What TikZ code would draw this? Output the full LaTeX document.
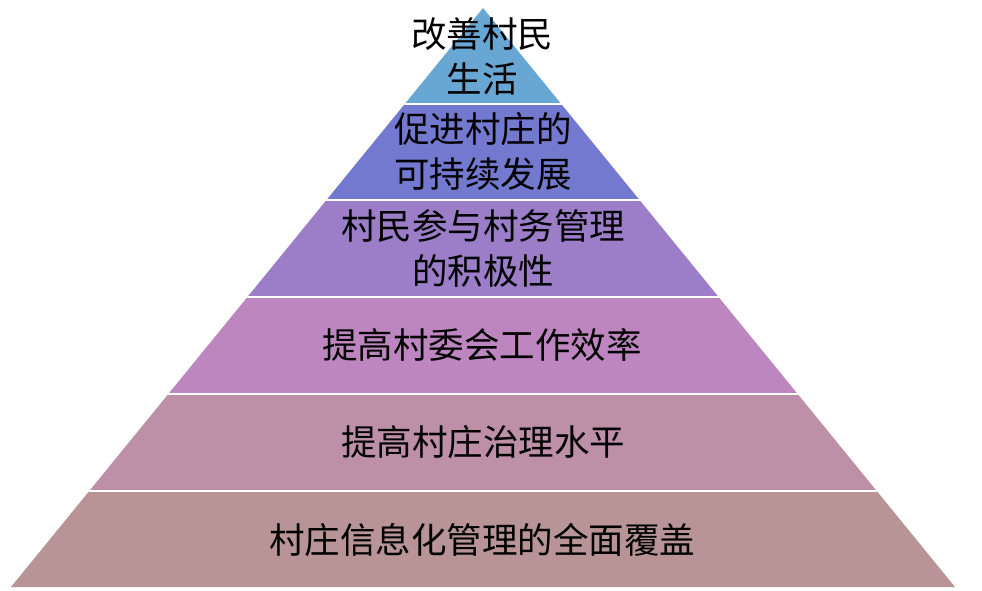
\documentclass[tikz,border=0pt]{standalone}
\usepackage{fontspec}
\setmainfont{Noto Sans CJK SC}
\definecolor{cA}{RGB}{104,166,212}
\definecolor{cB}{RGB}{115,121,207}
\definecolor{cC}{RGB}{155,125,200}
\definecolor{cD}{RGB}{190,134,192}
\definecolor{cE}{RGB}{190,144,168}
\definecolor{cF}{RGB}{184,148,150}
\begin{document}
\begin{tikzpicture}[x=1pt,y=-1pt,
  lbl/.style={font=\fontsize{35.5}{45}\selectfont, align=center, text=black, inner sep=0pt},
  sep/.style={white, line width=2pt}]
\useasboundingbox (0,0) rectangle (982,591);
\coordinate (apex) at (483,8);
\coordinate (bl) at (11,587);
\coordinate (br) at (955,587);
\begin{scope}
  \clip (apex) -- (bl) -- (br) -- cycle;
  \fill[cA] (0,0) rectangle (982,104);
  \fill[cB] (0,104) rectangle (982,200);
  \fill[cC] (0,200) rectangle (982,297);
  \fill[cD] (0,297) rectangle (982,394);
  \fill[cE] (0,394) rectangle (982,491);
  \fill[cF] (0,491) rectangle (982,591);
  \foreach \yy in {104,200,297,394,491} \draw[sep] (0,\yy) -- (982,\yy);
\end{scope}
\node[lbl] (t1) at (482,56) {改善村民\\生活};
\node[lbl] (t2) at (483,151) {促进村庄的\\可持续发展};
\node[lbl] (t3) at (483,248) {村民参与村务管理\\的积极性};
\node[lbl] (t4) at (482,345) {提高村委会工作效率};
\node[lbl] (t5) at (483,442) {提高村庄治理水平};
\node[lbl] (t6) at (482,540) {村庄信息化管理的全面覆盖};
\end{tikzpicture}
\end{document}
